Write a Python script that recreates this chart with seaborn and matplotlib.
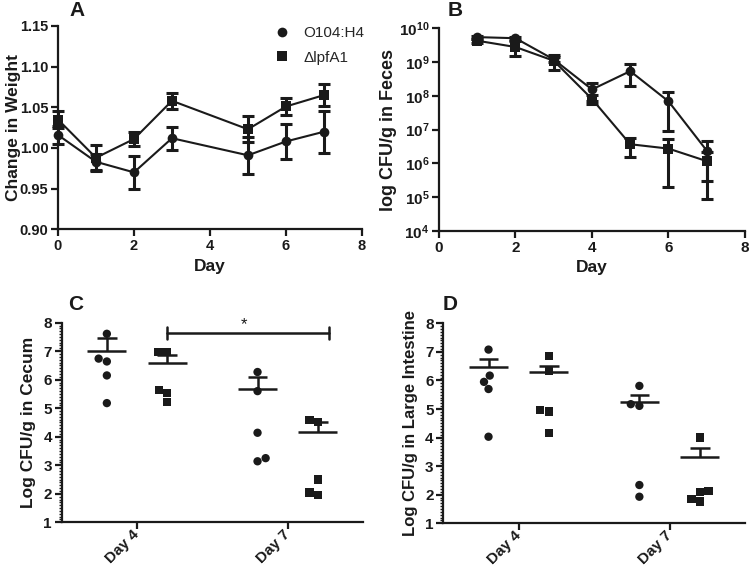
import numpy as np
import pandas as pd
import matplotlib
matplotlib.use("Agg")
import matplotlib.pyplot as plt
import seaborn as sns
from matplotlib.lines import Line2D
from matplotlib.ticker import AutoMinorLocator, LogLocator, FixedLocator, FixedFormatter, NullFormatter


# Strains / marker styles
STRAINS = ["O104:H4", "ΔlpfA1"]
MARKERS = {"O104:H4": "o", "ΔlpfA1": "s"}
INK = "#1a1a1a"

# Panel A - change in weight (mean +/- SEM)
WEIGHT_DAYS = [0, 1, 2, 3, 5, 6, 7]
WEIGHT_WT = [1.016, 0.983, 0.970, 1.012, 0.991, 1.008, 1.020]
WEIGHT_WT_SEM = [0.011, 0.010, 0.020, 0.014, 0.023, 0.021, 0.026]
WEIGHT_MUT = [1.035, 0.988, 1.011, 1.058, 1.023, 1.051, 1.065]
WEIGHT_MUT_SEM = [0.011, 0.016, 0.009, 0.010, 0.016, 0.010, 0.014]

# Panel B - CFU/g in feces (mean +/- SEM)
FECES_DAYS = [1, 2, 3, 4, 5, 6, 7]
FECES_WT = [5.5e9, 5.1e9, 1.2e9, 1.55e8, 5.4e8, 6.9e7, 2.4e6]
FECES_WT_SEM = [6e8, 6e8, 2e8, 8.5e7, 3.5e8, 6e7, 2.1e6]
FECES_MUT = [4.3e9, 2.8e9, 1.1e9, 8.1e7, 3.7e6, 2.75e6, 1.17e6]
FECES_MUT_SEM = [5e8, 1.3e9, 5e8, 2.3e7, 2.1e6, 2.55e6, 1.08e6]

# Panels C/D - tissue counts per mouse
DAY_LABELS = ["Day 4", "Day 7"]

CECUM_D4_WT = [7.61, 6.64, 6.74, 6.15, 5.18]
CECUM_D4_MUT = [6.97, 6.97, 5.63, 5.22, 5.53]
CECUM_D7_WT = [6.27, 5.60, 4.14, 3.14, 3.25]
CECUM_D7_MUT = [4.51, 4.59, 2.50, 1.96, 2.05]
CECUM_MEAN_WT = [7.02, 5.66]
CECUM_SEM_WT = [0.44, 0.45]
CECUM_MEAN_MUT = [6.60, 4.17]
CECUM_SEM_MUT = [0.25, 0.34]

LI_D4_WT = [7.08, 5.95, 6.17, 5.70, 4.03]
LI_D4_MUT = [6.86, 6.33, 4.97, 4.91, 4.17]
LI_D7_WT = [5.81, 5.17, 5.11, 1.93, 2.34]
LI_D7_MUT = [4.00, 2.09, 1.76, 1.85, 2.13]
LI_MEAN_WT = [6.46, 5.26]
LI_SEM_WT = [0.28, 0.23]
LI_MEAN_MUT = [6.28, 3.33]
LI_SEM_MUT = [0.24, 0.29]

FECES_TICKS = [1e4, 1e5, 1e6, 1e7, 1e8, 1e9, 1e10]
FECES_TICK_LABELS = [r"$\mathbf{10^{%d}}$" % k for k in range(4, 11)]


def style_axis(ax, tick_size=11):
    for side in ["top", "right"]:
        ax.spines[side].set_visible(False)
    for side in ["left", "bottom"]:
        ax.spines[side].set_linewidth(1.6)
        ax.spines[side].set_color(INK)
    ax.tick_params(which="major", length=5, width=1.6, color=INK, labelsize=tick_size,
                   labelcolor=INK, pad=2)
    ax.tick_params(which="minor", length=2.5, width=1.0, color=INK)
    for lab in ax.get_xticklabels() + ax.get_yticklabels():
        lab.set_fontweight("bold")


def tissue_frame(d4_wt, d4_mut, d7_wt, d7_mut):
    rows = []
    for day, strain, vals in [("Day 4", STRAINS[0], d4_wt), ("Day 4", STRAINS[1], d4_mut),
                              ("Day 7", STRAINS[0], d7_wt), ("Day 7", STRAINS[1], d7_mut)]:
        for v in vals:
            rows.append({"day": day, "strain": strain, "value": v})
    return pd.DataFrame(rows)


def draw_time_course(ax, days, wt, wt_sem, mut, mut_sem):
    df = pd.DataFrame({
        "day": list(days) * 2,
        "value": list(wt) + list(mut),
        "strain": [STRAINS[0]] * len(days) + [STRAINS[1]] * len(days),
    })
    for vals, sems in [(mut, mut_sem), (wt, wt_sem)]:
        ax.errorbar(days, vals, yerr=sems, fmt="none", ecolor=INK, elinewidth=2.2,
                    capsize=4, capthick=2.2, zorder=2, clip_on=False)
    sns.lineplot(data=df, x="day", y="value", style="strain", style_order=STRAINS,
                 markers=MARKERS, dashes=False, color=INK, linewidth=1.5,
                 markersize=7, markeredgewidth=0, legend=False, ax=ax, zorder=3,
                 clip_on=False)


def draw_tissue(ax, df, mean_wt, sem_wt, mean_mut, sem_mut, ylabel, label_size):
    for strain in STRAINS:
        sns.swarmplot(data=df[df["strain"] == strain], x="day", y="value", hue="strain",
                      hue_order=STRAINS, order=DAY_LABELS, dodge=True,
                      marker=MARKERS[strain], palette=[INK, INK], size=6,
                      linewidth=0, legend=False, ax=ax, zorder=3)
    for j, (means, sems) in enumerate([(mean_wt, sem_wt), (mean_mut, sem_mut)]):
        for i, (m, s) in enumerate(zip(means, sems)):
            pos = i + (j - 0.5) * 0.4
            ax.hlines(m, pos - 0.13, pos + 0.13, color=INK, lw=1.8, zorder=4)
            ax.vlines(pos, m, m + s, color=INK, lw=1.8, zorder=4)
            ax.hlines(m + s, pos - 0.065, pos + 0.065, color=INK, lw=1.8, zorder=4)
    ax.set_xlim(-0.5, 1.5)
    ax.set_ylim(1, 8)
    ax.set_yticks(range(1, 9))
    ax.yaxis.set_minor_locator(AutoMinorLocator(10))
    ax.set_xlabel("")
    ax.set_ylabel(ylabel, fontsize=label_size, fontweight="bold", color=INK, labelpad=5)
    style_axis(ax)
    ax.set_xticks([0, 1])
    ax.set_xticklabels(DAY_LABELS, rotation=45, ha="right", va="center",
                       rotation_mode="anchor", fontweight="bold")


def main():
    sns.set_style("ticks")
    plt.rcParams["font.family"] = ["Liberation Sans", "DejaVu Sans"]
    plt.rcParams["mathtext.fontset"] = "custom"
    plt.rcParams["mathtext.bf"] = "Liberation Sans:bold"
    plt.rcParams["mathtext.rm"] = "Liberation Sans:bold"

    fig = plt.figure(figsize=(7.5, 5.76), dpi=100)
    ax_a = fig.add_axes([0.0773, 0.6019, 0.4053, 0.353])
    ax_b = fig.add_axes([0.5853, 0.599, 0.408, 0.3518])
    ax_c = fig.add_axes([0.0822, 0.0932, 0.4018, 0.3466])
    ax_d = fig.add_axes([0.591, 0.0915, 0.4023, 0.3472])

    # Panel A
    draw_time_course(ax_a, WEIGHT_DAYS, WEIGHT_WT, WEIGHT_WT_SEM, WEIGHT_MUT, WEIGHT_MUT_SEM)
    ax_a.set_xlim(0, 8)
    ax_a.set_ylim(0.90, 1.15)
    ax_a.set_xticks([0, 2, 4, 6, 8])
    ax_a.set_yticks([0.90, 0.95, 1.00, 1.05, 1.10, 1.15])
    ax_a.set_yticklabels(["0.90", "0.95", "1.00", "1.05", "1.10", "1.15"])
    ax_a.set_xlabel("Day", fontsize=12.5, fontweight="bold", color=INK)
    ax_a.set_ylabel("Change in Weight", fontsize=12.5, fontweight="bold", color=INK)
    ax_a.yaxis.set_label_coords(-0.122, 0.5)
    style_axis(ax_a, tick_size=10.5)
    handles = [Line2D([], [], marker=MARKERS[s], ls="none", color=INK, markersize=7,
                      markeredgewidth=0) for s in STRAINS]
    fig.legend(handles, STRAINS, loc="upper left", bbox_to_anchor=(0.366, 0.955),
               frameon=False, fontsize=11, handlelength=1.0, handletextpad=0.9,
               labelspacing=0.7, borderpad=0, borderaxespad=0)

    # Panel B
    draw_time_course(ax_b, FECES_DAYS, FECES_WT, FECES_WT_SEM, FECES_MUT, FECES_MUT_SEM)
    ax_b.set_yscale("log")
    ax_b.set_xlim(0, 8)
    ax_b.set_ylim(1e4, 1e10)
    ax_b.set_xticks([0, 2, 4, 6, 8])
    ax_b.yaxis.set_major_locator(FixedLocator(FECES_TICKS))
    ax_b.yaxis.set_major_formatter(FixedFormatter(FECES_TICK_LABELS))
    ax_b.yaxis.set_minor_locator(LogLocator(base=10, subs=np.arange(2, 10)))
    ax_b.yaxis.set_minor_formatter(NullFormatter())
    ax_b.set_xlabel("Day", fontsize=12.5, fontweight="bold", color=INK)
    ax_b.set_ylabel("log CFU/g in Feces", fontsize=13, fontweight="bold", color=INK, labelpad=1)
    style_axis(ax_b)

    # Panel C
    cecum = tissue_frame(CECUM_D4_WT, CECUM_D4_MUT, CECUM_D7_WT, CECUM_D7_MUT)
    draw_tissue(ax_c, cecum, CECUM_MEAN_WT, CECUM_SEM_WT, CECUM_MEAN_MUT, CECUM_SEM_MUT,
                "Log CFU/g in Cecum", 12.5)
    left = 0 + 0.5 * 0.4
    right = 1 + 0.5 * 0.4 + 0.075
    ax_c.plot([left, right], [7.64, 7.64], color=INK, lw=1.8)
    ax_c.plot([left, left], [7.42, 7.86], color=INK, lw=1.8)
    ax_c.plot([right, right], [7.42, 7.86], color=INK, lw=1.8)
    ax_c.text(0.71, 7.68, "*", ha="center", va="bottom", fontsize=12, color=INK)

    # Panel D
    li = tissue_frame(LI_D4_WT, LI_D4_MUT, LI_D7_WT, LI_D7_MUT)
    draw_tissue(ax_d, li, LI_MEAN_WT, LI_SEM_WT, LI_MEAN_MUT, LI_SEM_MUT,
                "Log CFU/g in Large Intestine", 12)

    # Panel letters
    for x, y, letter in [(0.093, 0.982, "A"), (0.597, 0.982, "B"),
                         (0.091, 0.472, "C"), (0.59, 0.472, "D")]:
        fig.text(x, y, letter, fontsize=15, fontweight="bold", color=INK, va="center")

    fig.savefig("out.png", dpi=100)


if __name__ == "__main__":
    main()
